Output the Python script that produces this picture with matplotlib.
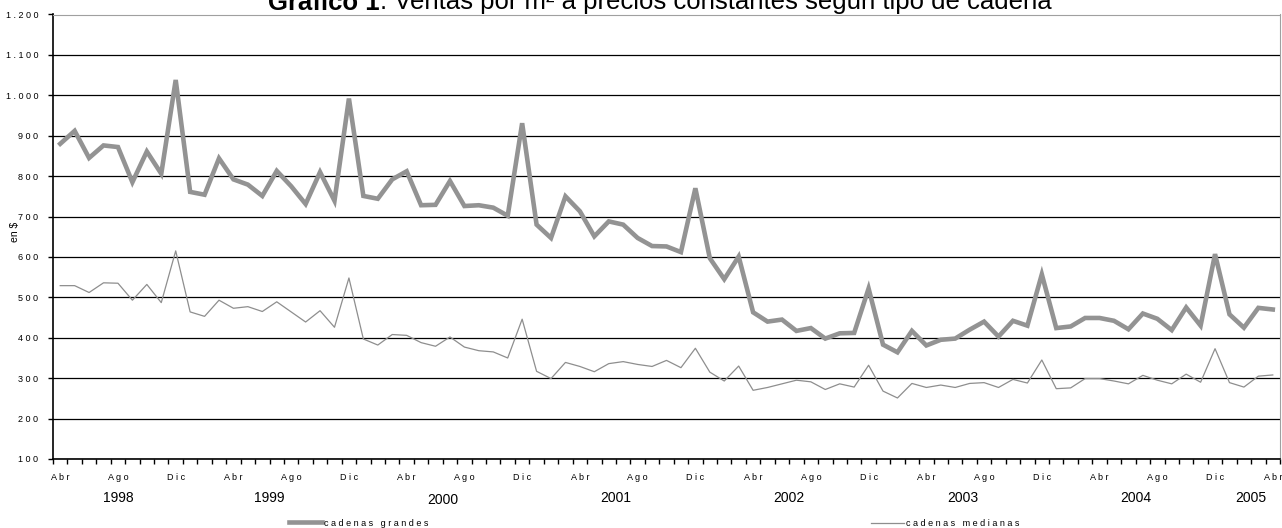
import numpy as np
import matplotlib.pyplot as plt
from matplotlib.lines import Line2D
import matplotlib.transforms as mtransforms

plt.rcParams['font.family'] = ['Liberation Sans', 'DejaVu Sans']

# meses de Abr 1998 a Abr 2005
meses = ['Abr', 'Ago', 'Dic']
anios = [1998, 1999, 2000, 2001, 2002, 2003, 2004, 2005]

grandes = [880, 912, 845, 876, 872, 785, 861, 806, 1038, 761,
           754, 844, 792, 779, 751, 813, 775, 731, 810, 739,
           992, 751, 744, 792, 812, 728, 729, 788, 726, 728,
           722, 702, 931, 680, 647, 750, 713, 651, 688, 680,
           647, 627, 626, 612, 770, 597, 545, 601, 463, 440,
           445, 417, 424, 398, 411, 412, 522, 383, 364, 417,
           381, 395, 398, 420, 440, 403, 442, 430, 557, 424,
           428, 449, 449, 442, 421, 460, 447, 419, 475, 430,
           607, 458, 425, 474, 470]

medianas = [529, 529, 512, 536, 535, 493, 532, 487, 615, 464,
            453, 493, 473, 477, 465, 489, 464, 439, 467, 426,
            548, 397, 382, 408, 406, 388, 379, 402, 377, 368,
            365, 350, 446, 317, 299, 339, 329, 316, 336, 341,
            334, 329, 344, 326, 374, 315, 293, 330, 270, 277,
            286, 295, 291, 272, 286, 278, 332, 268, 251, 287,
            277, 283, 277, 287, 289, 277, 297, 288, 345, 274,
            276, 299, 299, 293, 286, 307, 295, 286, 310, 290,
            373, 289, 278, 305, 308]

yticks = [100, 200, 300, 400, 500, 600, 700, 800, 900, 1000, 1100, 1200]


def spaced(s):
    return ' '.join(s)


def etiqueta_y(v):
    s = f"{v:,}".replace(',', '.')
    return spaced(s)


n = len(grandes)
x = np.arange(n)
# año de cada mes
anio_mes = [1998 + (3 + i) // 12 for i in range(n)]

fig = plt.figure(figsize=(12.82, 5.28), dpi=100)
ax = fig.add_axes([53 / 1282, 1 - 459 / 528, 1227 / 1282, (459 - 14.5) / 528])

ax.plot(x, grandes, color='#939393', lw=3.3, solid_joinstyle='miter')
ax.plot(x, medianas, color='#8e8e8e', lw=0.9)

ax.set_xlim(-0.5, n - 0.5)
ax.set_ylim(100, 1200)
ax.set_yticks(yticks)
ax.set_yticklabels([etiqueta_y(v) for v in yticks], fontsize=6.5)
ax.yaxis.grid(True, color='black', lw=0.9)
ax.set_axisbelow(True)

# ticks en los bordes de cada categoria, etiquetas cada 4 meses
ax.set_xticks(np.arange(-0.5, n, 1.0))
ax.set_xticklabels([])
ax.set_xticks(x[::4], minor=True)
ax.set_xticklabels([spaced(meses[k % 3]) for k in range(len(x[::4]))], minor=True, fontsize=6.5)
ax.tick_params(axis='x', which='major', length=3.5, width=1, direction='out')
ax.tick_params(axis='x', which='minor', length=0, pad=10)
ax.tick_params(axis='y', length=3.5, width=1, pad=7)

ax.spines['left'].set_color('black')
ax.spines['bottom'].set_color('black')
ax.spines['left'].set_linewidth(1.2)
ax.spines['bottom'].set_linewidth(1.2)
ax.spines['top'].set_color('#a0a0a0')
ax.spines['right'].set_color('#a0a0a0')

ax.set_ylabel('en $', fontsize=7.5)
ax.yaxis.set_label_coords(-0.0265, 0.51)

# años centrados bajo sus meses
trans = mtransforms.blended_transform_factory(ax.transData, ax.transAxes)
for a in anios:
    idx = [i for i in range(n) if anio_mes[i] == a]
    ypos = -0.087 if a != 2000 else -0.092
    ax.text(np.mean(idx), ypos, str(a), transform=trans, ha='center', va='center', fontsize=10)

# leyendas separadas
h1 = Line2D([], [], color='#939393', lw=3.3)
h2 = Line2D([], [], color='#8e8e8e', lw=0.9)
fig.legend(handles=[h1], labels=[spaced('cadenas grandes')], loc='center left',
           bbox_to_anchor=(289 / 1282, 1 - 523 / 528), frameon=False, fontsize=6.5,
           handlelength=3.6, handletextpad=0.3, borderpad=0, borderaxespad=0)
fig.legend(handles=[h2], labels=[spaced('cadenas medianas')], loc='center left',
           bbox_to_anchor=(871 / 1282, 1 - 524 / 528), frameon=False, fontsize=6.5,
           handlelength=3.6, handletextpad=0.3, borderpad=0, borderaxespad=0)

# titulo
t1 = fig.text(268 / 1282, 1 - 9.5 / 528, 'Gráfico 1', fontsize=18.5, fontweight='bold', va='baseline')
ax.annotate(': Ventas por m² a precios constantes según tipo de cadena', xy=(1, 0),
            xycoords=t1, va='bottom', fontsize=18.5, annotation_clip=False)

fig.savefig('out.png', dpi=100)
